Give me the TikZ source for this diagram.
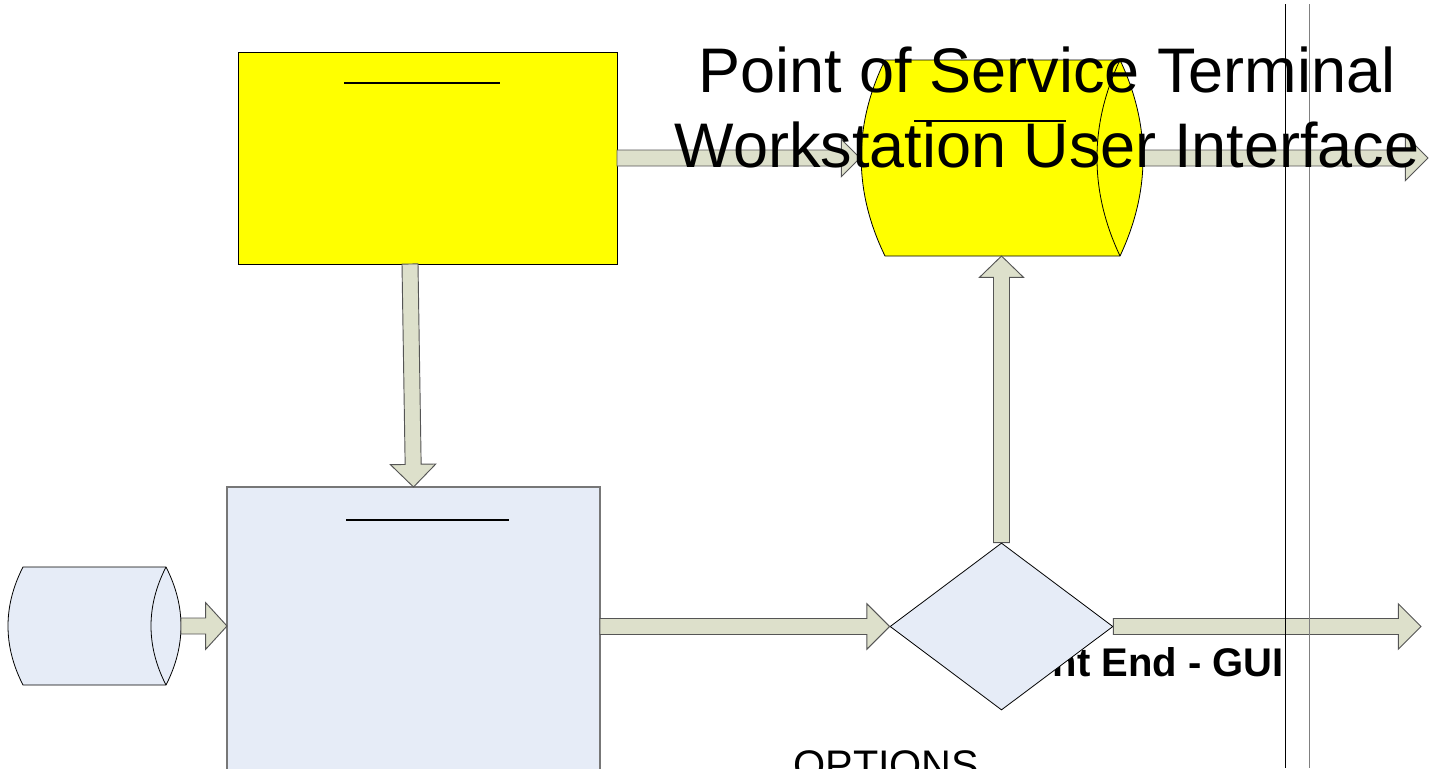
\documentclass[tikz,border=0pt]{standalone}
\usepackage{fontspec}
\setmainfont{Liberation Sans}
\usetikzlibrary{calc,shapes.geometric}
\definecolor{ylw}{HTML}{FFFF00}
\definecolor{lblue}{HTML}{E6ECF7}
\definecolor{afill}{HTML}{DDE0CB}
\definecolor{aline}{HTML}{555555}
\definecolor{bline}{HTML}{777777}
\tikzset{
  blockarrow/.style={fill=afill, draw=aline, line width=0.7pt, line join=miter},
  shapeline/.style={draw=black, line width=0.6pt},
  boxnode/.style={rectangle, inner sep=0pt, outer sep=0pt},
  uline/.style={line width=1.6pt},
  title/.style={font=\fontsize{47.25pt}{56pt}\selectfont, inner sep=0pt, anchor=base},
}
% #1 start, #2 end, #3 shaft half-width, #4 head half-width, #5 head length
\newcommand\fatarrow[5]{%
  \coordinate (fa-h) at ($(#2)!#5!(#1)$);
  \draw[blockarrow] ($(#1)!#3!90:(#2)$) -- ($(fa-h)!#3!-90:(#1)$) -- ($(fa-h)!#4!-90:(#1)$)
     -- (#2) -- ($(fa-h)!#4!90:(#1)$) -- ($(fa-h)!#3!90:(#1)$) -- ($(#1)!#3!-90:(#2)$) -- cycle;}
\begin{document}
\begin{tikzpicture}[x=0.75pt, y=-0.75pt]
\useasboundingbox (0,0) rectangle (1431,768);
\clip (0,0) rectangle (1431,768);

% yellow rectangle
\node[boxnode, shapeline, fill=ylw, minimum width=379*0.75pt, minimum height=212*0.75pt] (yr) at (427.5,158) {};
\draw[uline] (344,83) -- (500,83);

% blue rectangle (runs past the bottom edge)
\node[boxnode, draw=bline, line width=0.8pt, fill=lblue, minimum width=373*0.75pt, minimum height=300*0.75pt] (br) at (413.5,637) {};
\draw[uline] (346,520) -- (509,520);

% left cylinder
\node[boxnode, minimum width=173*0.75pt, minimum height=118*0.75pt] (lc) at (94.5,626) {};
\draw[shapeline, fill=lblue] (23,567) -- (166,567)
   .. controls (186,606) and (186,646) .. (166,685)
   -- (23,685) .. controls (3,646) and (3,606) .. cycle;
\draw[shapeline] (166,567) .. controls (146,606) and (146,646) .. (166,685);

% yellow cylinder
\node[boxnode, minimum width=283*0.75pt, minimum height=196*0.75pt] (yc) at (1001.5,158) {};
\draw[shapeline, fill=ylw] (885,60) -- (1120,60)
   .. controls (1150.7,125) and (1150.7,191) .. (1120,256)
   -- (885,256) .. controls (853.3,191) and (853.3,125) .. cycle;
\draw[shapeline] (1120,60) .. controls (1089.3,125) and (1089.3,191) .. (1120,256);
\draw[uline] (914,121) -- (1066,121);

% label partly hidden by the decision diamond
\node[font=\bfseries\fontsize{30pt}{36pt}\selectfont, inner sep=0pt, anchor=base east] (fe) at (1284,676) {Front End - GUI};

% decision diamond
\node[diamond, shapeline, fill=lblue, inner sep=0pt, minimum width=223*0.75pt, minimum height=167*0.75pt, aspect=1.335] (dm) at (1001.5,626.5) {};

% free ends
\coordinate (out1) at (1428,158);
\coordinate (out2) at (1421,626.5);
\coordinate (dstart) at ($(yr.south)+(-17.5,0)$);

% block arrows
\fatarrow{yr.east}{yc.west}{6pt}{14pt}{14pt}
\fatarrow{yc.east}{out1}{6pt}{17pt}{17pt}
\fatarrow{dstart}{br.north}{6pt}{17pt}{17pt}
\fatarrow{lc.east}{br.west |- lc.east}{6pt}{17.5pt}{16pt}
\fatarrow{br.east |- dm.west}{dm.west}{6pt}{17pt}{17pt}
\fatarrow{dm.east}{out2}{6pt}{17pt}{17pt}
\fatarrow{dm.north}{yc.south}{6pt}{16.5pt}{16pt}

% vertical rules
\coordinate (v1t) at (1285,4);
\coordinate (v1b) at (1285,768);
\coordinate (v2t) at (1309,4);
\coordinate (v2b) at (1309,768);
\draw[black, line width=0.7pt] (v1t) -- (v1b);
\draw[gray, line width=0.7pt] (v2t) -- (v2b);

% bottom label, cut by the page edge
\node[font=\fontsize{31pt}{37pt}\selectfont, inner sep=0pt, anchor=base west] (opt) at (793,779) {OPTIONS};

% title
\node[title] (t1) at (1047,92) {Point of Service Terminal};
\node[title] (t2) at (1047,167) {Workstation User Interface};
\end{tikzpicture}
\end{document}
